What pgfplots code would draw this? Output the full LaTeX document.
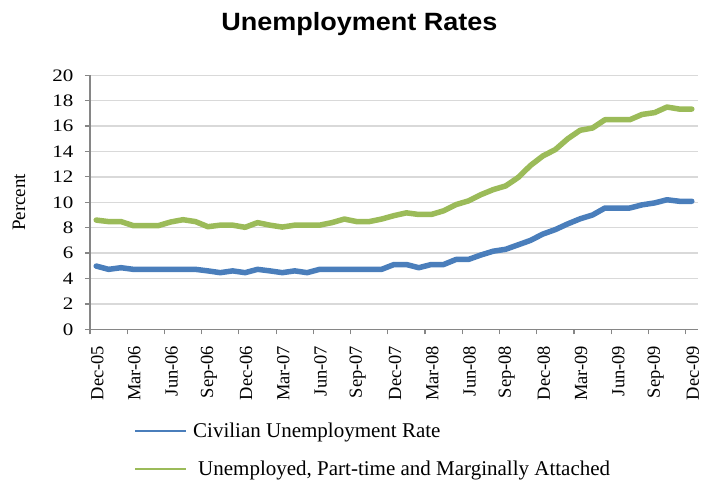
\documentclass[border=0pt]{standalone}
\usepackage{fontspec}
\setmainfont{Liberation Serif}
\newfontfamily\titlefont[FakeStretch=1.08]{Liberation Sans}
\newfontfamily\ytickfont[FakeStretch=1.2]{Liberation Serif}
\usepackage{pgfplots}
\pgfplotsset{compat=1.18}
\definecolor{ublue}{HTML}{4A7EBB}
\definecolor{ugreen}{HTML}{9BBB59}
\definecolor{gridgray}{HTML}{D9D9D9}
\definecolor{axisgray}{HTML}{868686}
\begin{document}
\begin{tikzpicture}
\useasboundingbox (-90pt,-154.7pt) rectangle (614pt,329.3pt);
\begin{axis}[
  at={(0pt,0pt)}, anchor=south west,
  scale only axis, width=608pt, height=254pt,
  xmin=-0.5, xmax=48.5, ymin=0, ymax=20,
  axis x line=bottom, axis y line=left,
  axis line style={-, draw=axisgray, line width=1.3pt},
  tick align=outside,
  major tick length=5pt,
  tick style={draw=axisgray, line width=1.2pt},
  ytick={0,2,...,20},
  xtick={-0.5,2.5,...,47.5},
  xticklabels={},
  extra x ticks={0,3,...,48},
  extra x tick labels={Dec-05,Mar-06,Jun-06,Sep-06,Dec-06,Mar-07,Jun-07,Sep-07,Dec-07,Mar-08,Jun-08,Sep-08,Dec-08,Mar-09,Jun-09,Sep-09,Dec-09},
  extra x tick style={major tick length=0pt, grid=none},
  xticklabel style={yshift=-13pt, xshift=1pt, rotate=90, anchor=east, font=\fontsize{18.5pt}{20pt}\selectfont},
  yticklabel style={xshift=-8pt, font=\ytickfont\fontsize{17.5pt}{20pt}\selectfont},
  /pgf/number format/assume math mode=true,
  ymajorgrids,
  y grid style={draw=gridgray, line width=1.3pt},
  legend style={at={(axis description cs:0.0724,-0.356)}, anchor=north west, draw=none, fill=none,
    font=\fontsize{21pt}{24pt}\selectfont, row sep=16pt, column sep=3pt, inner sep=0pt,
    nodes={inner sep=3pt}},
  legend cell align=left,
  legend image code/.code={\draw[#1, line width=2pt, line cap=butt] (0pt,0pt) -- (51pt,0pt);},
  clip=false,
]
\addplot[ublue, line width=5.5pt, line join=round, line cap=round] coordinates {
(0,4.98) (1,4.72) (2,4.85) (3,4.72) (4,4.72) (5,4.72) (6,4.72) (7,4.72) (8,4.72)
(9,4.6) (10,4.46) (11,4.6) (12,4.46) (13,4.72) (14,4.6) (15,4.46) (16,4.6) (17,4.46)
(18,4.72) (19,4.72) (20,4.72) (21,4.72) (22,4.72) (23,4.72) (24,5.1) (25,5.1) (26,4.85)
(27,5.1) (28,5.1) (29,5.5) (30,5.5) (31,5.85) (32,6.15) (33,6.3) (34,6.65) (35,7.0)
(36,7.5) (37,7.85) (38,8.3) (39,8.7) (40,9.0) (41,9.55) (42,9.55) (43,9.55) (44,9.8)
(45,9.95) (46,10.2) (47,10.08) (48,10.08)
};
\addlegendentry{Civilian Unemployment Rate}
\addplot[ugreen, line width=5.5pt, line join=round, line cap=round] coordinates {
(0,8.6) (1,8.48) (2,8.48) (3,8.16) (4,8.16) (5,8.16) (6,8.45) (7,8.63) (8,8.48)
(9,8.08) (10,8.2) (11,8.2) (12,8.03) (13,8.4) (14,8.2) (15,8.05) (16,8.2) (17,8.2)
(18,8.2) (19,8.4) (20,8.68) (21,8.48) (22,8.48) (23,8.68) (24,8.95) (25,9.17) (26,9.04)
(27,9.04) (28,9.33) (29,9.82) (30,10.11) (31,10.6) (32,11.0) (33,11.29) (34,11.95) (35,12.9)
(36,13.65) (37,14.15) (38,15.0) (39,15.67) (40,15.85) (41,16.5) (42,16.5) (43,16.5) (44,16.92)
(45,17.06) (46,17.5) (47,17.34) (48,17.34)
};
\addlegendentry{\hspace{5pt}Unemployed, Part-time and Marginally Attached}
\node[rotate=90, font=\fontsize{19pt}{22pt}\selectfont] at (axis description cs:-0.1168,0.5) {Percent};
\node[font=\titlefont\bfseries\fontsize{25pt}{30pt}\selectfont] at (axis description cs:0.443,1.2) {Unemployment Rates};
\end{axis}
\end{tikzpicture}
\end{document}
